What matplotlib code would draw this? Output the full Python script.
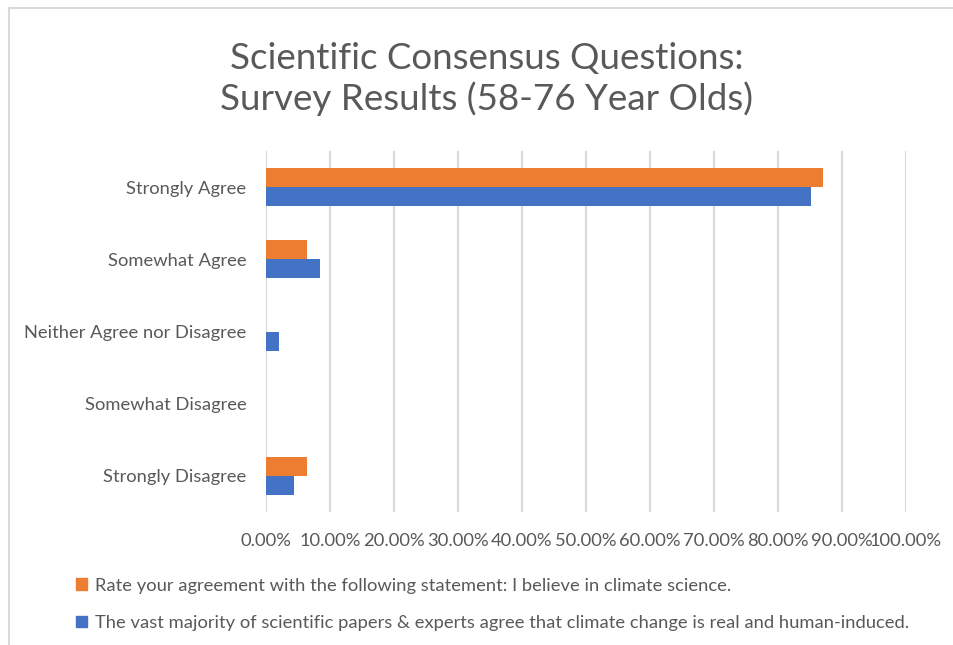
import matplotlib
matplotlib.use("Agg")
import matplotlib.pyplot as plt
from matplotlib.patches import Patch
from matplotlib.ticker import PercentFormatter
import numpy as np

categories = ["Strongly Agree", "Somewhat Agree", "Neither Agree nor Disagree",
              "Somewhat Disagree", "Strongly Disagree"]
# share of respondents, percent
believe_science = [87.1, 6.45, 0.0, 0.0, 6.45]
consensus_real = [85.1, 8.5, 2.1, 0.0, 4.3]
series_names = [
    "Rate your agreement with the following statement: I believe in climate science.",
    "The vast majority of scientific papers & experts agree that climate change is real and human-induced.",
]
xticks = list(range(0, 101, 10))

ORANGE = "#ed7d31"
BLUE = "#4472c4"
TEXT = "#595959"
GRID = "#d9d9d9"

plt.rcParams["font.family"] = ["Lato", "DejaVu Sans"]

W, H = 954, 645
fig = plt.figure(figsize=(W / 100, H / 100), dpi=100)
fig.patch.set_facecolor("white")

# chart border (left/top only visible in the crop)
fig.add_artist(plt.Line2D([9 / W, 9 / W], [0, 1 - 8 / H], transform=fig.transFigure,
                          color=GRID, lw=1.5))
fig.add_artist(plt.Line2D([9 / W, 1], [1 - 8 / H, 1 - 8 / H], transform=fig.transFigure,
                          color=GRID, lw=1.5))

left, right, top, bottom = 266, 906, 151, 512
ax = fig.add_axes([left / W, 1 - bottom / H, (right - left) / W, (bottom - top) / H])

y = np.arange(len(categories))[::-1]
h = 0.265
ax.barh(y + h / 2, believe_science, height=h, color=ORANGE, zorder=3)
ax.barh(y - h / 2, consensus_real, height=h, color=BLUE, zorder=3)

ax.set_xlim(0, 100)
ax.set_ylim(-0.5, len(categories) - 0.5)
ax.set_xticks(xticks)
ax.xaxis.set_major_formatter(PercentFormatter(decimals=2))
ax.set_yticks(y)
ax.set_yticklabels(categories)
ax.grid(axis="x", color=GRID, lw=1.5, zorder=0)
for s in ax.spines.values():
    s.set_visible(False)
ax.tick_params(length=0, colors=TEXT, labelsize=13.2)
ax.tick_params(axis="y", pad=14)
ax.tick_params(axis="x", pad=15)

fig.text(487 / W, 1 - 79 / H, "Scientific Consensus Questions:\nSurvey Results (58-76 Year Olds)",
         ha="center", va="center", fontsize=26.5, color=TEXT, linespacing=1.25)

handles = [Patch(color=ORANGE), Patch(color=BLUE)]
fig.legend(handles, series_names, loc="upper left", bbox_to_anchor=(60 / W, 1 - 561 / H),
           frameon=False, fontsize=13.2, labelcolor=TEXT, handlelength=0.55, handleheight=0.55,
           handletextpad=0.45, labelspacing=1.17)

fig.savefig("out.png", dpi=100)
